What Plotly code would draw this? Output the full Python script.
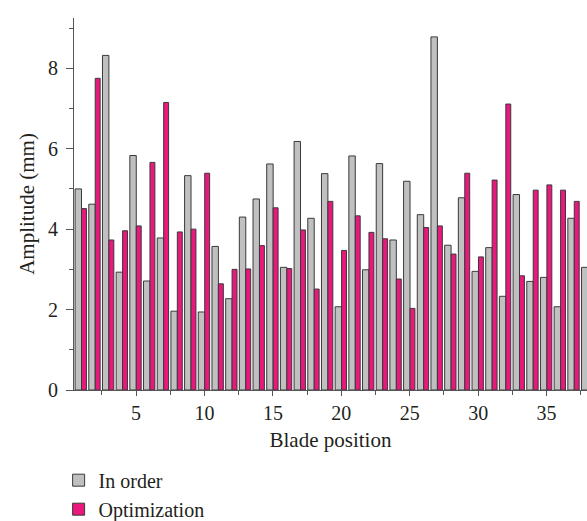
import plotly.graph_objects as go

positions = list(range(1, 39))
in_order = [5.00, 4.62, 8.32, 2.93, 5.83, 2.71, 3.78, 1.96, 5.33, 1.94,
            3.57, 2.27, 4.30, 4.75, 5.62, 3.05, 6.18, 4.27, 5.38, 2.07,
            5.82, 2.99, 5.63, 3.73, 5.19, 4.36, 8.78, 3.60, 4.78, 2.95,
            3.54, 2.33, 4.86, 2.70, 2.80, 2.07, 4.27, 3.05]
optimization = [4.51, 7.75, 3.73, 3.96, 4.08, 5.66, 7.15, 3.93, 4.00, 5.39,
                2.64, 3.00, 3.01, 3.59, 4.53, 3.02, 3.98, 2.51, 4.69, 3.47,
                4.33, 3.92, 3.76, 2.76, 2.03, 4.04, 4.08, 3.38, 5.39, 3.31,
                5.22, 7.11, 2.84, 4.97, 5.10, 4.97, 4.69, None]
x_ticks = [5, 10, 15, 20, 25, 30, 35]
y_ticks = [0, 2, 4, 6, 8]

FONT = "Liberation Serif"

fig = go.Figure()
fig.add_trace(go.Bar(
    x=positions, y=in_order, name="In order",
    offset=-0.45, width=0.47,
    marker=dict(color="#c0c0c0", line=dict(color="#3a3a3a", width=1)),
))
fig.add_trace(go.Bar(
    x=positions, y=optimization, name="Optimization",
    offset=0.02, width=0.36,
    marker=dict(color="#e8187c", line=dict(color="#3a3a3a", width=1)),
))

fig.update_layout(
    width=587, height=521,
    margin=dict(l=74, r=0, t=18, b=131, autoexpand=False),
    paper_bgcolor="white", plot_bgcolor="white",
    barmode="overlay",
    font=dict(family=FONT, size=20, color="#231f20"),
    showlegend=True,
    legend=dict(
        x=-0.03, xanchor="left", y=-0.19, yanchor="top",
        font=dict(family=FONT, size=20, color="#231f20"),
        itemwidth=30, tracegroupgap=0,
        bgcolor="rgba(0,0,0,0)",
    ),
    xaxis=dict(
        range=[0.47, 37.95], automargin=False,
        tickmode="array", tickvals=x_ticks, ticktext=[str(v) for v in x_ticks],
        ticks="outside", ticklen=5, tickcolor="#555", tickwidth=1,
        minor=dict(tickmode="array", tickvals=[2.5, 7.5, 12.5, 17.5, 22.5, 27.5, 32.5, 37.5],
                   ticks="outside", ticklen=4, tickcolor="#555"),
        showline=True, linecolor="#555", linewidth=1,
        showgrid=False, zeroline=False,
        title=dict(text="Blade position", font=dict(family=FONT, size=21), standoff=9),
        tickfont=dict(family=FONT, size=20),
    ),
    yaxis=dict(
        range=[0, 9.25], automargin=False,
        tickmode="array", tickvals=y_ticks, ticktext=[str(v) for v in y_ticks],
        ticks="outside", ticklen=7, tickcolor="#555", tickwidth=1,
        ticklabelstandoff=4,
        minor=dict(tickmode="array", tickvals=[1, 3, 5, 7, 9],
                   ticks="outside", ticklen=4, tickcolor="#555"),
        showline=True, linecolor="#555", linewidth=1,
        showgrid=False, zeroline=False,
        title=dict(text="Amplitude (mm)", font=dict(family=FONT, size=21), standoff=7),
        tickfont=dict(family=FONT, size=20),
    ),
)

fig.write_html("out.html")
